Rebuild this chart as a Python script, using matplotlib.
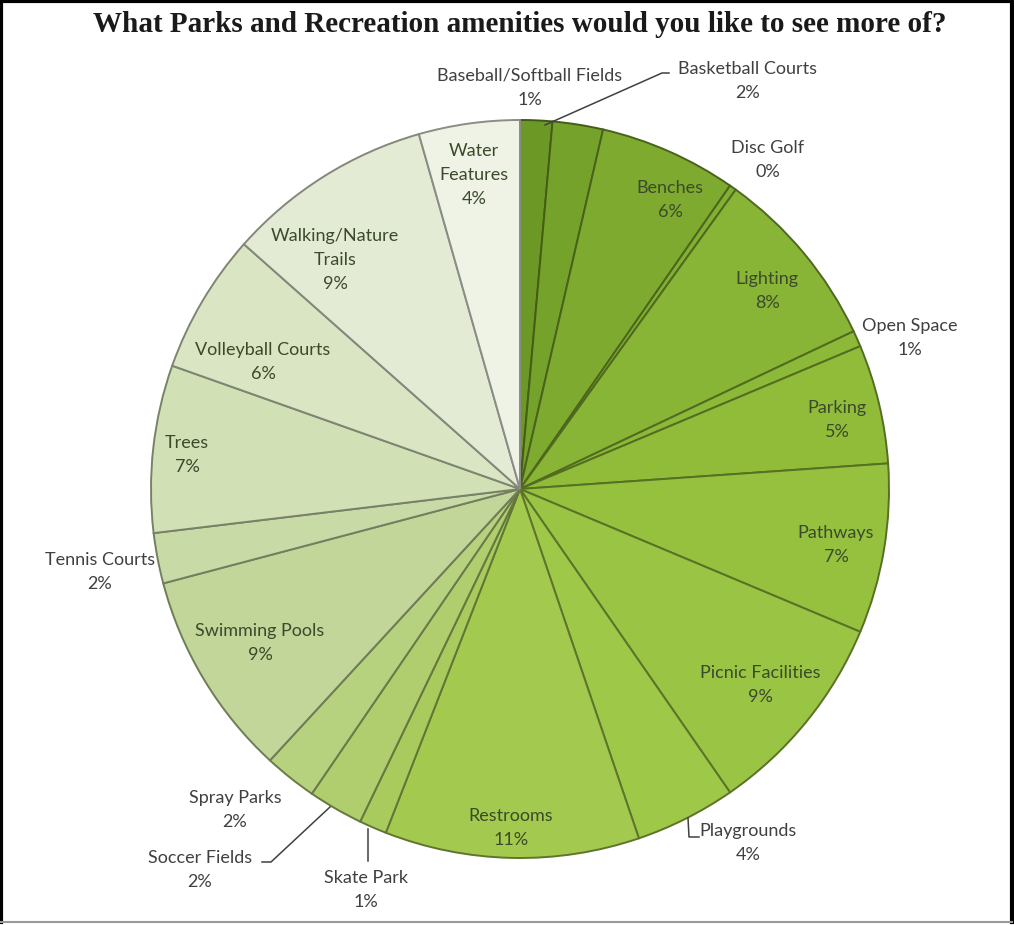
import matplotlib
matplotlib.use("Agg")
import matplotlib.pyplot as plt
import numpy as np
from matplotlib.colors import to_rgb

# data (clockwise from 12 o'clock)
amenities = ["Baseball/Softball Fields", "Basketball Courts", "Benches", "Disc Golf",
             "Lighting", "Open Space", "Parking", "Pathways", "Picnic Facilities",
             "Playgrounds", "Restrooms", "Skate Park", "Soccer Fields", "Spray Parks",
             "Swimming Pools", "Tennis Courts", "Trees", "Volleyball Courts",
             "Walking/Nature\nTrails", "Water\nFeatures"]
shares = [1.4, 2.2, 6.0, 0.3, 8.0, 0.7, 5.2, 7.4, 9.0, 4.4,
          11.1, 1.2, 2.4, 2.3, 9.0, 2.2, 7.3, 6.1, 9.0, 4.4]
pct_text = ["1%", "2%", "6%", "0%", "8%", "1%", "5%", "7%", "9%", "4%",
            "11%", "1%", "2%", "2%", "9%", "2%", "7%", "6%", "9%", "4%"]

colors = ["#6c9926", "#75a22a", "#7eab2f", "#83b032", "#88b535", "#8cb938", "#90bc3a",
          "#95c13e", "#9ac544", "#9ec848", "#a3ca4e", "#a9cb5e", "#b0ce6e", "#b7d27e",
          "#c1d698", "#c8dba6", "#d1e0b5", "#dae5c4", "#e4ebd5", "#eff3e5"]

W, H = 1014, 925
fig = plt.figure(figsize=(W / 100, H / 100), dpi=100)
ax = fig.add_axes([0, 0, 1, 1])
ax.set_xlim(0, W)
ax.set_ylim(0, H)
ax.set_aspect("equal")
ax.axis("off")


def P(x, y):
    # pixel position (origin top-left) -> data coords
    return x, H - y


cx, cy = P(520, 489)
R = 369

edge_cols = [tuple(c * 0.58 for c in to_rgb(col)) for col in colors]
wedges, _ = ax.pie(shares, colors=colors, startangle=90, counterclock=False,
                   center=(cx, cy), radius=R, normalize=True,
                   wedgeprops=dict(linewidth=1.4))
for w, ec in zip(wedges, edge_cols):
    w.set_edgecolor(ec)
ax.set_xlim(0, W)
ax.set_ylim(0, H)

# label placement (pixel centres of each text block)
label_xy = {
    "Baseball/Softball Fields": (530, 88),
    "Basketball Courts": (748, 81),
    "Benches": (670, 200),
    "Disc Golf": (768, 160),
    "Lighting": (767, 291),
    "Open Space": (910, 338),
    "Parking": (837, 420),
    "Pathways": (836, 545),
    "Picnic Facilities": (760, 685),
    "Playgrounds": (748, 843),
    "Restrooms": (511, 828),
    "Skate Park": (366, 890),
    "Soccer Fields": (200, 870),
    "Spray Parks": (235, 810),
    "Swimming Pools": (260, 643),
    "Tennis Courts": (100, 572),
    "Trees": (187, 455),
    "Volleyball Courts": (263, 362),
    "Walking/Nature\nTrails": (335, 260),
    "Water\nFeatures": (474, 175),
}
outside = {"Baseball/Softball Fields", "Basketball Courts", "Disc Golf", "Open Space",
           "Playgrounds", "Skate Park", "Soccer Fields", "Spray Parks", "Tennis Courts"}

font = ["Lato", "DejaVu Sans"]
for name, pct in zip(amenities, pct_text):
    x, y = P(*label_xy[name])
    col = "#404040" if name in outside else "#3b4a2b"
    ax.text(x, y, f"{name}\n{pct}", ha="center", va="center", fontsize=13,
            family=font, color=col, linespacing=1.65)

# leader lines
leaders = [
    [(545, 125), (662, 73), (669, 73)],
    [(688, 818), (689, 837), (699, 837)],
    [(368, 829), (368, 861)],
    [(330, 807), (271, 862), (262, 862)],
]
for pts in leaders:
    xs, ys = zip(*[P(*p) for p in pts])
    ax.plot(xs, ys, color="#404040", lw=1.1)

# title
tx, ty = P(520, 25)
ax.text(tx, ty, "What Parks and Recreation amenities would you like to see more of?",
        ha="center", va="center", fontsize=21, fontweight="bold",
        family="Liberation Serif", color="#1a1a1a")

# frame around the chart
ax.plot(*zip(P(1, 922), P(1, 1), P(1012, 1), P(1012, 922)), color="black", lw=3)
ax.plot(*zip(P(1, 922), P(1012, 922)), color="#999999", lw=1.5)

fig.savefig("out.png", dpi=100)
